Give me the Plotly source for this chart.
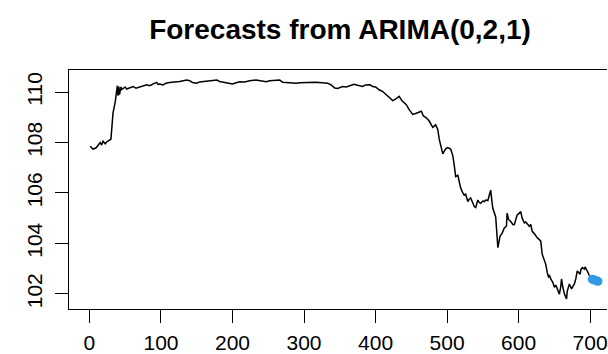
import plotly.graph_objects as go

t_index = [1, 5, 9, 15, 17, 19, 22, 24, 30, 31, 33, 36, 38, 39, 40, 41, 42, 44, 45, 47,
           50, 52, 57, 61, 65, 70, 75, 80, 84, 89, 94, 96, 98, 103, 107, 112, 119, 126, 136, 140,
           144, 150, 154, 161, 168, 172, 178, 182, 189, 196, 200, 204, 210, 217, 224, 233, 238, 242, 247, 252,
           259, 266, 270, 276, 281, 289, 294, 301, 308, 317, 325, 333, 338, 343, 347, 351, 354, 359, 365, 370,
           375, 379, 382, 386, 392, 396, 400, 405, 410, 415, 419, 424, 428, 433, 437, 443, 447, 452, 456, 459,
           464, 467, 471, 475, 480, 484, 487, 489, 491, 494, 498, 501, 505, 508, 510, 512, 515, 517, 519, 522,
           524, 526, 529, 531, 533, 536, 538, 540, 543, 545, 547, 550, 552, 554, 557, 559, 561, 563, 564, 568,
           570, 571, 574, 577, 580, 583, 584, 586, 589, 592, 594, 597, 598, 601, 603, 605, 608, 610, 615, 617,
           619, 623, 626, 629, 631, 633, 636, 638, 640, 642, 643, 645, 648, 650, 652, 654, 657, 659, 660, 662,
           664, 667, 668, 671, 673, 674, 676, 678, 680, 682, 684, 686, 687, 689, 692, 693, 695, 696, 699]
price = [107.85, 107.74, 107.78, 108.00, 107.90, 108.05, 107.95, 108.02, 108.13, 108.60, 109.18, 109.60, 109.96, 110.25, 109.85, 110.22, 109.90, 110.20, 110.10, 110.15,
         110.20, 110.12, 110.18, 110.22, 110.15, 110.20, 110.22, 110.29, 110.25, 110.33, 110.38, 110.30, 110.32, 110.28, 110.35, 110.38, 110.40, 110.42, 110.48, 110.45,
         110.38, 110.35, 110.40, 110.42, 110.45, 110.45, 110.48, 110.42, 110.38, 110.35, 110.32, 110.36, 110.41, 110.40, 110.45, 110.48, 110.45, 110.43, 110.41, 110.45,
         110.47, 110.48, 110.39, 110.37, 110.38, 110.35, 110.37, 110.38, 110.40, 110.39, 110.37, 110.35, 110.28, 110.16, 110.14, 110.18, 110.22, 110.20, 110.27, 110.31,
         110.27, 110.24, 110.22, 110.28, 110.29, 110.22, 110.20, 110.09, 110.02, 109.89, 109.78, 109.66, 109.72, 109.83, 109.65, 109.50, 109.30, 109.11, 109.15, 109.18,
         109.24, 109.05, 108.98, 108.85, 108.60, 108.70, 108.52, 108.13, 107.85, 107.55, 107.75, 107.80, 107.74, 107.48, 107.10, 106.65, 106.70, 106.40, 106.20, 106.00,
         105.91, 105.95, 105.66, 105.75, 105.80, 105.60, 105.46, 105.42, 105.72, 105.62, 105.59, 105.68, 105.66, 105.72, 105.70, 105.91, 106.11, 105.60, 105.39, 105.05,
         104.22, 103.83, 104.28, 104.41, 104.61, 104.68, 105.20, 104.95, 104.87, 104.75, 104.74, 105.00, 105.13, 105.20, 105.26, 105.00, 104.81, 104.85, 104.68, 104.75,
         104.48, 104.35, 104.22, 104.15, 104.09, 103.57, 103.35, 103.17, 102.85, 102.65, 102.75, 102.59, 102.45, 102.26, 102.35, 102.20, 101.99, 102.30, 102.59, 102.25,
         102.00, 101.80, 102.10, 102.39, 102.30, 102.20, 102.30, 102.39, 102.60, 102.91, 102.85, 102.78, 102.95, 103.04, 102.98, 103.07, 102.95, 102.91, 102.72]

# Point forecast
fc_index = [703, 711]
fc_value = [102.58, 102.50]

x_ticks = [0, 100, 200, 300, 400, 500, 600, 700]
y_ticks = [102, 104, 106, 108, 110]

FONT = "Liberation Sans, Arial, sans-serif"

fig = go.Figure()
fig.add_trace(go.Scatter(x=t_index, y=price, mode="lines",
                         line=dict(color="black", width=1.5), hoverinfo="skip"))
fig.add_trace(go.Scatter(x=fc_index, y=fc_value, mode="lines+markers",
                         line=dict(color="#3399e6", width=9),
                         marker=dict(color="#3399e6", size=9), hoverinfo="skip"))

fig.update_layout(
    width=608, height=354,
    margin=dict(l=69, r=0, t=70, b=42),
    plot_bgcolor="white", paper_bgcolor="white",
    showlegend=False,
    font=dict(family=FONT, color="black", size=21),
    title=dict(text="<b>Forecasts from ARIMA(0,2,1)</b>", x=340/608, xanchor="center",
               xref="container", y=1 - 29/354, yref="container", yanchor="middle",
               font=dict(family=FONT, size=28, color="black")),
    xaxis=dict(range=[-28.6, 723.6], tickvals=x_ticks, ticks="outside", ticklen=13,
               tickwidth=1.2, tickcolor="black", showline=True, linecolor="black",
               linewidth=1.3, mirror=True, showgrid=False, zeroline=False,
               ticklabelstandoff=2, ticklabeloverflow="allow", tickfont=dict(size=21)),
    yaxis=dict(range=[101.40, 110.873], tickvals=y_ticks, ticks="outside", ticklen=13,
               tickwidth=1.2, tickcolor="black", showline=True, linecolor="black",
               linewidth=1.3, mirror=False, showgrid=False, zeroline=False,
               tickangle=-90, ticklabelstandoff=4, tickfont=dict(size=21)),
)

fig.write_html("out.html")
